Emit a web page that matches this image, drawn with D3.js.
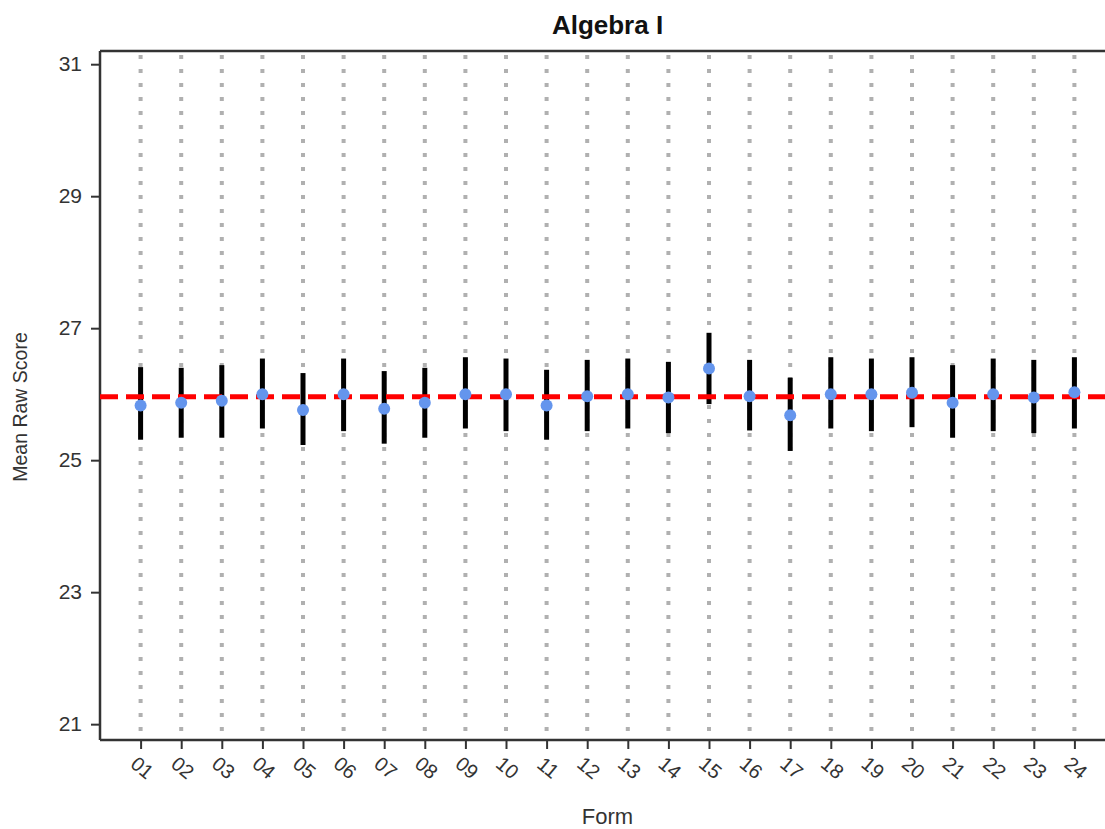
<!DOCTYPE html>
<html>
<head>
<meta charset="utf-8">
<script src="https://cdn.jsdelivr.net/npm/d3@7"></script>
<style>
  body { margin: 0; background: #fff; }
  text { font-family: "Liberation Sans", Arial, sans-serif; }
</style>
</head>
<body>
<div id="chart"></div>
<script>
// values
const forms = ["01","02","03","04","05","06","07","08","09","10","11","12",
               "13","14","15","16","17","18","19","20","21","22","23","24"];
const means = [25.83,25.87,25.90,26.00,25.76,26.00,25.78,25.87,26.00,26.00,25.83,25.97,
               26.00,25.95,26.39,25.97,25.68,26.00,26.00,26.02,25.87,26.00,25.95,26.03];
const upper = [26.41,26.40,26.44,26.54,26.32,26.54,26.35,26.40,26.56,26.54,26.37,26.52,
               26.54,26.49,26.93,26.52,26.25,26.56,26.54,26.56,26.44,26.54,26.52,26.56];
const lower = [25.31,25.34,25.34,25.48,25.23,25.44,25.25,25.34,25.48,25.44,25.31,25.44,
               25.48,25.41,25.85,25.45,25.14,25.48,25.44,25.50,25.34,25.44,25.41,25.48];
const overallMean = 25.96;
const yTicks = [21, 23, 25, 27, 29, 31];

const width = 1105, height = 829;
const margin = {top: 51, left: 100, bottom: 89};
const plotRight = 1115; // plot runs past the picture edge

const svg = d3.select("#chart").append("svg")
  .attr("width", width)
  .attr("height", height);

const x = d3.scalePoint()
  .domain(forms)
  .range([margin.left, plotRight])
  .padding(1);

const y = d3.scaleLinear()
  .domain([20.76, 31.2])
  .range([height - margin.bottom, margin.top]);

// vertical dotted guides
svg.append("g")
  .selectAll("line")
  .data(forms)
  .join("line")
  .attr("x1", d => x(d)).attr("x2", d => x(d))
  .attr("y1", margin.top + 4).attr("y2", height - margin.bottom)
  .attr("stroke", "#b0b0b0")
  .attr("stroke-width", 4)
  .attr("stroke-dasharray", "4,10");

// frame: top border
svg.append("line")
  .attr("x1", margin.left).attr("x2", width)
  .attr("y1", margin.top).attr("y2", margin.top)
  .attr("stroke", "#333").attr("stroke-width", 2.5);

// y axis
const yAxis = svg.append("g")
  .attr("transform", `translate(${margin.left},0)`)
  .call(d3.axisLeft(y).tickValues(yTicks).tickSize(9).tickPadding(9));
yAxis.select(".domain").attr("stroke", "#333").attr("stroke-width", 2.5)
  .attr("d", `M0,${margin.top}V${height - margin.bottom}`);
yAxis.selectAll(".tick line").attr("stroke", "#333").attr("stroke-width", 2);
yAxis.selectAll(".tick text").attr("font-size", 21).attr("fill", "#333");

// x axis
const xAxis = svg.append("g")
  .attr("transform", `translate(0,${height - margin.bottom})`)
  .call(d3.axisBottom(x).tickSize(9).tickSizeOuter(0));
xAxis.select(".domain").attr("stroke", "#333").attr("stroke-width", 2.5)
  .attr("d", `M${margin.left},0H${width}`);
xAxis.selectAll(".tick line").attr("stroke", "#333").attr("stroke-width", 2);
xAxis.selectAll(".tick text")
  .attr("font-size", 20).attr("fill", "#333")
  .attr("text-anchor", "middle")
  .attr("dy", null)
  .attr("y", null)
  .attr("transform", "translate(0,29) rotate(40)")
  .attr("dominant-baseline", "middle");

// error bars
svg.append("g")
  .selectAll("line")
  .data(forms)
  .join("line")
  .attr("x1", d => x(d)).attr("x2", d => x(d))
  .attr("y1", (d, i) => y(upper[i]))
  .attr("y2", (d, i) => y(lower[i]))
  .attr("stroke", "#000")
  .attr("stroke-width", 5);

// overall mean reference line
svg.append("line")
  .attr("x1", margin.left).attr("x2", width)
  .attr("y1", y(overallMean)).attr("y2", y(overallMean))
  .attr("stroke", "#ff0000")
  .attr("stroke-width", 5)
  .attr("stroke-dasharray", "18,8");

// means
svg.append("g")
  .selectAll("circle")
  .data(forms)
  .join("circle")
  .attr("cx", d => x(d))
  .attr("cy", (d, i) => y(means[i]))
  .attr("r", 6)
  .attr("fill", "#6495ed");

// titles
svg.append("text")
  .attr("x", (margin.left + plotRight) / 2)
  .attr("y", 34)
  .attr("text-anchor", "middle")
  .attr("font-size", 26)
  .attr("font-weight", "bold")
  .attr("fill", "#111")
  .text("Algebra I");

svg.append("text")
  .attr("x", (margin.left + plotRight) / 2)
  .attr("y", 824)
  .attr("text-anchor", "middle")
  .attr("font-size", 22)
  .attr("fill", "#333")
  .text("Form");

svg.append("text")
  .attr("transform", "translate(27,407) rotate(-90)")
  .attr("text-anchor", "middle")
  .attr("font-size", 19.5)
  .attr("fill", "#333")
  .text("Mean Raw Score");
</script>
</body>
</html>
